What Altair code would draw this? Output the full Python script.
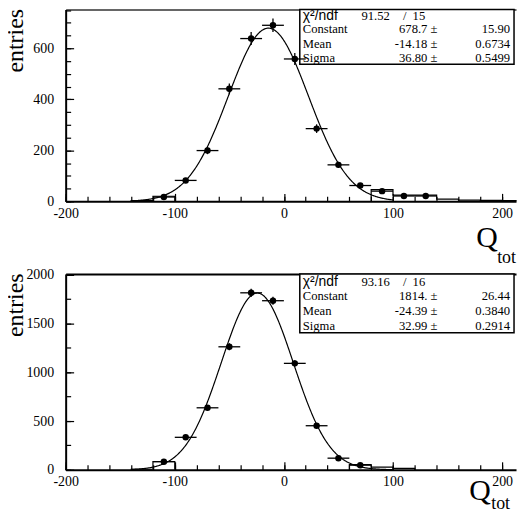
import altair as alt
import pandas as pd

FONT = "Liberation Serif"
SANS = "Liberation Sans"

BIN_WIDTH = 20
X_DOMAIN = [-200, 212.75]
X_MAJOR = [-200, -100, 0, 100, 200]
X_MINOR = list(range(-200, 201, 20))
FIT_RANGE = [-140, 100]

# ---------------- top panel ----------------
top_centers = [-110, -90, -70, -50, -30, -10, 10, 30, 50, 70, 90, 110, 130]
top_counts = [17, 82, 199, 441, 638, 690, 558, 285, 143, 62, 40, 21, 21]
top_left_edges = [-140, -120, -100]
top_left_counts = [3, 20]
top_right_edges = [80, 100, 120, 140, 160, 180, 200, 220]
top_right_counts = [46, 24, 24, 9, 5, 4, 3]
top_param_names = ["Constant", "Mean", "Sigma"]
top_param_values = [678.7, -14.18, 36.80]
top_param_labels = ["678.7", "-14.18", "36.80"]
top_param_errors = ["15.90", "0.6734", "0.5499"]
top_chi2 = "91.52"
top_ndf = "15"
top_y_major = [0, 200, 400, 600]
top_y_minor = list(range(0, 751, 50))

# ---------------- bottom panel ----------------
bot_centers = [-110, -90, -70, -50, -30, -10, 10, 30, 50, 70]
bot_counts = [82, 333, 636, 1262, 1816, 1735, 1092, 452, 119, 47]
bot_left_edges = [-140, -120, -100]
bot_left_counts = [5, 85]
bot_right_edges = [60, 80, 100, 120]
bot_right_counts = [54, 27, 15]
bot_param_names = ["Constant", "Mean", "Sigma"]
bot_param_values = [1814.0, -24.39, 32.99]
bot_param_labels = ["1814.", "-24.39", "32.99"]
bot_param_errors = ["26.44", "0.3840", "0.2914"]
bot_chi2 = "93.16"
bot_ndf = "16"
bot_y_major = [0, 500, 1000, 1500, 2000]
bot_y_minor = list(range(0, 2001, 250))


def tail_frame(tails):
    rows = []
    for t, (edges, counts) in enumerate(tails):
        pts = [(edges[0], 0)] + list(zip(edges[:-1], counts)) + [(edges[-1], 0)]
        for i, (x, y) in enumerate(pts):
            rows.append({"tail": t, "i": i, "x": min(x, X_DOMAIN[1]), "n": y})
    return pd.DataFrame(rows)


def panel(centers, counts, tails, pnames, pvals, plabels, perrs, chi2, ndf,
          ymax, height, y_major, y_minor, top_color, box_right, box_h,
          chi_c, row_c, row_lh, title_y, q_x, q_base, tot_x, tot_base):
    W = 453
    xs = alt.Scale(domain=X_DOMAIN, nice=False, zero=False)
    ys = alt.Scale(domain=[0, ymax], nice=False, zero=False)
    lab = "'' + datum.value"

    ax_x_main = alt.Axis(orient="bottom", values=X_MAJOR, labelFont=FONT, labelFontSize=14,
                         labelColor="black", ticks=False, tickSize=0, domain=True,
                         domainColor="black", domainWidth=2, grid=False, title=None,
                         labelPadding=5, labelFlush=False, labelOverlap=False, labelExpr=lab)
    ax_x_major = alt.Axis(orient="bottom", values=X_MAJOR, ticks=True, tickSize=8,
                          tickColor="black", tickWidth=1.2, labels=False, domain=False,
                          grid=False, title=None, offset=-8)
    ax_x_minor = alt.Axis(orient="bottom", values=X_MINOR, ticks=True, tickSize=5,
                          tickColor="black", tickWidth=1.2, labels=False, domain=False,
                          grid=False, title=None, offset=-5)
    ax_x_top = alt.Axis(orient="top", ticks=False, labels=False, domain=True,
                        domainColor=top_color, domainWidth=2, grid=False, title=None)

    ax_y_main = alt.Axis(orient="left", values=y_major, labelFont=FONT, labelFontSize=14,
                         labelColor="black", ticks=False, tickSize=0, domain=True,
                         domainColor="black", domainWidth=2, grid=False,
                         labelPadding=12, labelFlush=False, labelOverlap=False, labelExpr=lab,
                         title="entries", titleFont=FONT, titleFontSize=24,
                         titleFontWeight="normal", titleColor="black", titleAngle=270,
                         titleAlign="right", titleBaseline="alphabetic",
                         titleX=-43, titleY=title_y)
    ax_y_major = alt.Axis(orient="left", values=y_major, ticks=True, tickSize=8,
                          tickColor="black", tickWidth=1.2, labels=False, domain=False,
                          grid=False, title=None, offset=-8)
    ax_y_minor = alt.Axis(orient="left", values=y_minor, ticks=True, tickSize=5,
                          tickColor="black", tickWidth=1.2, labels=False, domain=False,
                          grid=False, title=None, offset=-5)

    A, mu, sig = pvals
    curve = alt.Chart(alt.sequence(FIT_RANGE[0], FIT_RANGE[1] + 0.25, 0.5, as_="q")).transform_calculate(
        n=f"{A}*exp(-0.5*pow((datum.q-({mu}))/{sig},2))"
    ).mark_line(color="black", strokeWidth=1.2).encode(
        x=alt.X("q:Q", scale=xs, axis=ax_x_main),
        y=alt.Y("n:Q", scale=ys, axis=ax_y_main),
    )

    tail = alt.Chart(tail_frame(tails)).mark_line(
        interpolate="step-after", color="black", strokeWidth=1.2
    ).encode(
        x=alt.X("x:Q", scale=xs, axis=ax_x_major),
        y=alt.Y("n:Q", scale=ys, axis=ax_y_major),
        detail="tail:N",
        order="i:Q",
    )

    pts_df = pd.DataFrame({"c": centers, "n": counts})
    base = alt.Chart(pts_df).transform_calculate(
        lo=f"datum.c-{BIN_WIDTH}/2", hi=f"datum.c+{BIN_WIDTH}/2",
        elo="datum.n-sqrt(datum.n)", ehi="datum.n+sqrt(datum.n)",
    )
    pts = base.mark_circle(size=42, color="black", opacity=1).encode(
        x=alt.X("c:Q", scale=xs, axis=ax_x_minor),
        y=alt.Y("n:Q", scale=ys, axis=ax_y_minor),
    )
    hbar = base.mark_rule(color="black", strokeWidth=1.3).encode(
        x=alt.X("lo:Q", scale=xs, axis=ax_x_top), x2="hi:Q",
        y=alt.Y("n:Q", scale=ys, axis=None),
    )
    vbar = base.mark_rule(color="black", strokeWidth=1.3).encode(
        x=alt.X("c:Q", scale=xs, axis=None),
        y=alt.Y("elo:Q", scale=ys, axis=None), y2="ehi:Q",
    )

    one = pd.DataFrame({"k": [0]})
    box = alt.Chart(one).mark_rect(fill="white", stroke="black", strokeWidth=1.5).encode(
        x=alt.value(235.5), x2=alt.value(box_right), y=alt.value(0), y2=alt.value(box_h)
    )
    fs = 12.7
    t_chi = alt.Chart(one).mark_text(text="χ²/ndf", font=SANS, fontSize=14, align="left",
                                      baseline="top", color="black").encode(
        x=alt.value(238.5), y=alt.value(chi_c - 0.46 * 14))
    t_chi2 = alt.Chart(one).mark_text(text=chi2, font=FONT, fontSize=fs, align="right",
                                       baseline="top", color="black").encode(
        x=alt.value(326), y=alt.value(chi_c - 0.46 * fs))
    t_slash = alt.Chart(one).mark_text(text="/", font=FONT, fontSize=fs, align="center",
                                        baseline="top", color="black").encode(
        x=alt.value(341), y=alt.value(chi_c - 0.46 * fs))
    t_ndf = alt.Chart(one).mark_text(text=ndf, font=FONT, fontSize=fs, align="left",
                                      baseline="top", color="black").encode(
        x=alt.value(349), y=alt.value(chi_c - 0.46 * fs))
    ty = row_c - 0.46 * fs
    t_names = alt.Chart(one).mark_text(text=pnames, font=FONT, fontSize=fs, align="left",
                                        baseline="top", lineHeight=row_lh, color="black").encode(
        x=alt.value(238.5), y=alt.value(ty))
    t_vals = alt.Chart(one).mark_text(text=[v + " ±" for v in plabels], font=FONT, fontSize=fs,
                                       align="right", baseline="top", lineHeight=row_lh,
                                       color="black").encode(
        x=alt.value(374), y=alt.value(ty))
    t_errs = alt.Chart(one).mark_text(text=perrs, font=FONT, fontSize=fs, align="right",
                                       baseline="top", lineHeight=row_lh, color="black").encode(
        x=alt.value(447), y=alt.value(ty))

    t_q = alt.Chart(one).mark_text(text="Q", font=FONT, fontSize=30, align="left",
                                    baseline="alphabetic", color="black").encode(
        x=alt.value(q_x), y=alt.value(q_base))
    t_tot = alt.Chart(one).mark_text(text="tot", font=FONT, fontSize=18, align="left",
                                      baseline="alphabetic", color="black").encode(
        x=alt.value(tot_x), y=alt.value(tot_base))

    return alt.layer(
        box, curve, tail, pts, hbar, vbar, t_chi, t_chi2, t_slash, t_ndf,
        t_names, t_vals, t_errs, t_q, t_tot,
    ).resolve_axis(x="independent", y="independent").properties(width=W, height=height)


top = panel(top_centers, top_counts,
            [(top_left_edges, top_left_counts), (top_right_edges, top_right_counts)],
            top_param_names, top_param_values, top_param_labels, top_param_errors,
            top_chi2, top_ndf, 752, 193, top_y_major, top_y_minor, "#666666",
            451, 55, 6.5, 20, 14.5, -1, 413, 238.6, 434, 255.3)

bottom = panel(bot_centers, bot_counts,
               [(bot_left_edges, bot_left_counts), (bot_right_edges, bot_right_counts)],
               bot_param_names, bot_param_values, bot_param_labels, bot_param_errors,
               bot_chi2, bot_ndf, 2010, 197, bot_y_major, bot_y_minor, "black",
               451, 59.3, 7.7, 22, 15, -1, 406, 227.0, 428, 236.0)

chart = alt.vconcat(top, bottom, spacing=73, bounds="flush").properties(
    padding={"left": -4, "top": -1, "right": 0, "bottom": -3},
).configure_view(stroke=None).configure_axis(labelFont=FONT, titleFont=FONT)

chart.save("out.html", embed_options={"renderer": "svg", "actions": False})
